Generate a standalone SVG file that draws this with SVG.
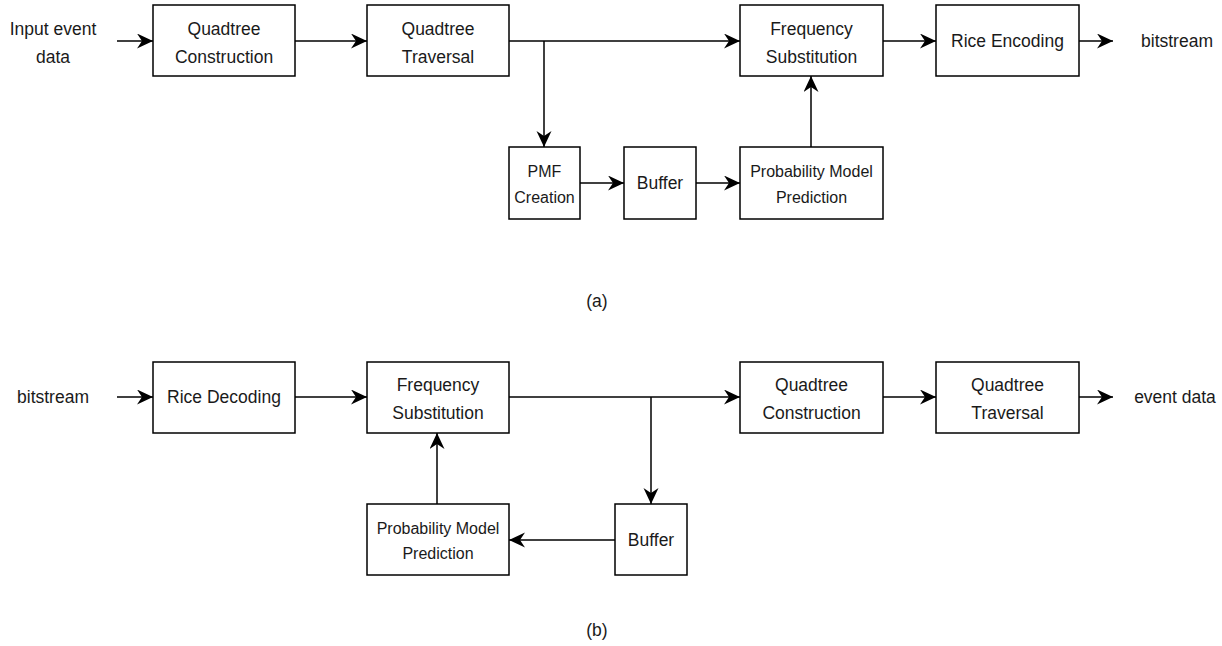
<svg xmlns="http://www.w3.org/2000/svg" width="1222" height="646" viewBox="0 0 1222 646">
<defs>
<style>
.box{fill:#fff;stroke:#000;stroke-width:1.5}
.ln{fill:none;stroke:#000;stroke-width:1.5;marker-end:url(#ah)}
text{font-family:"Liberation Sans",Arial,sans-serif;fill:#1a1a1a;text-anchor:middle}
.t{font-size:17.5px}
.s{font-size:16px}
</style>
<marker id="ah" markerUnits="userSpaceOnUse" markerWidth="17" markerHeight="16" refX="16" refY="7.5" orient="auto">
<path d="M0,0 L16,7.5 L0,15 L5,7.5 Z" fill="#000"/>
</marker>
</defs>
<rect width="1222" height="646" fill="#fff"/>
<g id="connectors">
<path class="ln" d="M117,41 H153"/>
<path class="ln" d="M295,41 H367"/>
<path class="ln" d="M509,41 H740"/>
<path class="ln" d="M544,41 V147"/>
<path class="ln" d="M580,183 H624"/>
<path class="ln" d="M696,183 H740"/>
<path class="ln" d="M811,147 V76"/>
<path class="ln" d="M883,41 H936"/>
<path class="ln" d="M1079,41 H1113"/>
<path class="ln" d="M117,397 H153"/>
<path class="ln" d="M295,397 H367"/>
<path class="ln" d="M509,397 H740"/>
<path class="ln" d="M651,397 V504"/>
<path class="ln" d="M615,540 H509"/>
<path class="ln" d="M437,504 V433"/>
<path class="ln" d="M883,397 H936"/>
<path class="ln" d="M1079,397 H1113"/>
</g>
<g id="input-a"><text class="t" x="53" y="35">Input event</text><text class="t" x="53" y="62.7">data</text></g>
<g id="qc-a"><rect class="box" x="153" y="5" width="142" height="71"/><text class="t" x="224" y="35">Quadtree</text><text class="t" x="224" y="62.7">Construction</text></g>
<g id="qt-a"><rect class="box" x="367" y="5" width="142" height="71"/><text class="t" x="438" y="35">Quadtree</text><text class="t" x="438" y="62.7">Traversal</text></g>
<g id="fs-a"><rect class="box" x="740" y="5" width="143" height="71"/><text class="t" x="811.5" y="35">Frequency</text><text class="t" x="811.5" y="62.7">Substitution</text></g>
<g id="re-a"><rect class="box" x="936" y="5" width="143" height="71"/><text class="t" x="1007.5" y="47">Rice Encoding</text></g>
<g id="out-a"><text class="t" x="1177" y="47">bitstream</text></g>
<g id="pmf-a"><rect class="box" x="509" y="147" width="71" height="72"/><text class="s" x="544.5" y="176.7">PMF</text><text class="s" x="544.5" y="203.3">Creation</text></g>
<g id="buf-a"><rect class="box" x="624" y="147" width="72" height="72"/><text class="t" x="660" y="189">Buffer</text></g>
<g id="pmp-a"><rect class="box" x="740" y="147" width="143" height="72"/><text class="s" x="811.5" y="176.7">Probability Model</text><text class="s" x="811.5" y="203.3">Prediction</text></g>
<g id="label-a"><text class="t" x="597" y="307">(a)</text></g>
<g id="input-b"><text class="t" x="53" y="403">bitstream</text></g>
<g id="rd-b"><rect class="box" x="153" y="362" width="142" height="71"/><text class="t" x="224" y="403">Rice Decoding</text></g>
<g id="fs-b"><rect class="box" x="367" y="362" width="142" height="71"/><text class="t" x="438" y="391">Frequency</text><text class="t" x="438" y="418.7">Substitution</text></g>
<g id="pmp-b"><rect class="box" x="367" y="504" width="142" height="71"/><text class="s" x="438" y="533.5">Probability Model</text><text class="s" x="438" y="559">Prediction</text></g>
<g id="buf-b"><rect class="box" x="615" y="504" width="72" height="71"/><text class="t" x="651" y="546">Buffer</text></g>
<g id="qc-b"><rect class="box" x="740" y="362" width="143" height="71"/><text class="t" x="811.5" y="391">Quadtree</text><text class="t" x="811.5" y="418.7">Construction</text></g>
<g id="qt-b"><rect class="box" x="936" y="362" width="143" height="71"/><text class="t" x="1007.5" y="391">Quadtree</text><text class="t" x="1007.5" y="418.7">Traversal</text></g>
<g id="out-b"><text class="t" x="1175" y="403">event data</text></g>
<g id="label-b"><text class="t" x="597" y="636">(b)</text></g>
</svg>
